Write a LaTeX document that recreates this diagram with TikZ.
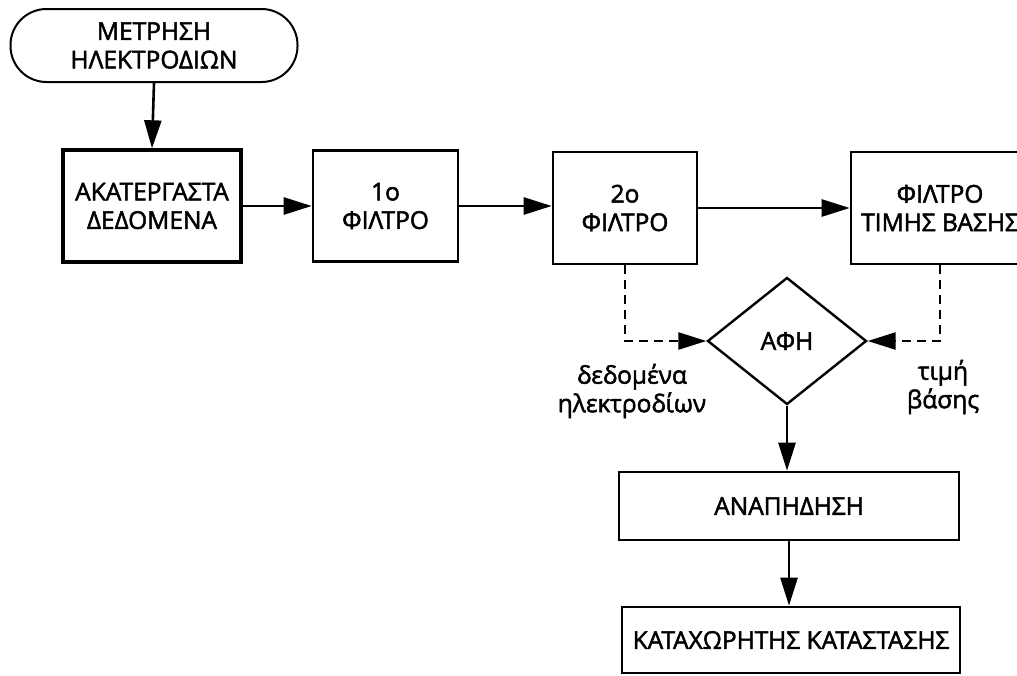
\documentclass[tikz,border=0pt]{standalone}
\usepackage{fontspec}
\setmainfont{Open Sans}[FakeBold=2]
\usetikzlibrary{shapes.geometric,arrows.meta}
\begin{document}
\begin{tikzpicture}[x=1pt,y=-1pt,
  every node/.style={font=\fontsize{24.5}{28.5}\selectfont, align=center},
  box/.style={draw, line width=2.6pt, inner sep=0pt},
  arr/.style={line width=2.6pt, -{Triangle[length=28pt,width=17pt]}},
  darr/.style={line width=2.6pt, dash pattern=on 9pt off 6pt, -{Triangle[length=28pt,width=17pt]}}]
\useasboundingbox[fill=white] (0,0) rectangle (1017,675);
\node[box, line width=2pt, rounded corners=36pt, minimum width=287pt, minimum height=73pt] (start) at (154,45.5) {ΜΕΤΡΗΣΗ\\ΗΛΕΚΤΡΟΔΙΩΝ};
\node[box, line width=3.4pt, minimum width=178pt, minimum height=112pt] (raw) at (152,206) {ΑΚΑΤΕΡΓΑΣΤΑ\\ΔΕΔΟΜΕΝΑ};
\node[box, minimum width=145pt, minimum height=111pt] (f1) at (385.5,206) {1ο\\ΦΙΛΤΡΟ};
\node[box, minimum width=144pt, minimum height=112pt] (f2) at (625,208) {2ο\\ΦΙΛΤΡΟ};
\node[box, minimum width=178pt, minimum height=112pt] (fb) at (940,208) {ΦΙΛΤΡΟ\\ΤΙΜΗΣ ΒΑΣΗΣ};
\node[draw, line width=2.4pt, shape=diamond, inner sep=0pt, minimum width=159pt, minimum height=127pt] (afh) at (787,341) {ΑΦΗ};
\node[box, minimum width=340pt, minimum height=68pt] (anap) at (789,506) {ΑΝΑΠΗΔΗΣΗ};
\node[box, minimum width=338pt, minimum height=66pt] (kat) at (791,640) {ΚΑΤΑΧΩΡΗΤΗΣ ΚΑΤΑΣΤΑΣΗΣ};
\node (l1) at (632,391) {δεδομένα\\ηλεκτροδίων};
\node (l2) at (943,387) {τιμή\\βάσης};
\draw[arr] (start.south) -- (raw.north);
\draw[arr] (raw.east) -- (f1.west);
\draw[arr] (f1.east) -- (f2.west |- f1.east);
\draw[arr] (f2.east) -- (fb.west);
\draw[darr] (f2.south) |- (afh.west);
\draw[darr] (fb.south) |- (afh.east);
\draw[arr] (afh.south) -- (anap.north -| afh.south);
\draw[arr] (anap.south) -- (kat.north -| anap.south);
\end{tikzpicture}
\end{document}
